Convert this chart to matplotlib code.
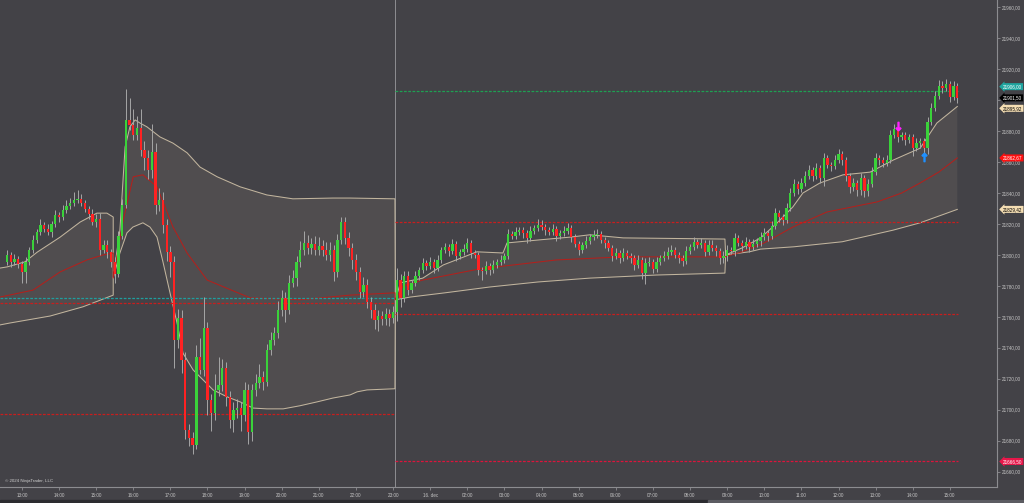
import matplotlib
matplotlib.use("Agg")
import matplotlib.pyplot as plt
import matplotlib.transforms as mtransforms
from matplotlib.patches import Rectangle
import numpy as np

plt.rcParams['font.family'] = ['Liberation Sans', 'DejaVu Sans']

# ---- 6-minute bars, bar 0 = 12:36, bar 256 = 15:12 next day ----
first_open = 21795.5
closes = [
    21800, 21795.5, 21797.5, 21794.25, 21789, 21795.5, 21803.25, 21809.75, 21814.75, 21819.25,
    21816.75, 21814.75, 21820, 21825.75, 21824.5, 21829, 21831.5, 21833.5, 21835.5, 21836.25,
    21833.5, 21829.75, 21826.5, 21821.25, 21823.25, 21803.25, 21806.5, 21802, 21795.5, 21787.75,
    21812.25, 21832.25, 21887.25, 21884, 21877.5, 21882, 21867.75, 21862.75, 21855, 21866.5,
    21832.25, 21835.5, 21819.25, 21802, 21795.5, 21745, 21759.25, 21732, 21687, 21681.75,
    21677.25, 21734, 21725.75, 21752.75, 21706.25, 21698, 21712.75, 21716, 21727, 21708.25,
    21693.25, 21699.75, 21701, 21696.5, 21712.75, 21685.5, 21712.75, 21717.25, 21721.25, 21718,
    21738.5, 21745, 21749.5, 21764.5, 21772.25, 21764.5, 21782, 21785, 21795.5, 21803.25,
    21807.75, 21804.5, 21807, 21803.25, 21805.75, 21803.25, 21800, 21803.25, 21789, 21809.75,
    21821.25, 21811, 21804.5, 21796.75, 21789, 21776, 21780.5, 21769.5, 21764.5, 21758,
    21760.5, 21758.5, 21761.75, 21759.25, 21763, 21783.75, 21772.25, 21786.5, 21777.25, 21782,
    21786.5, 21790.25, 21794.75, 21793, 21795.5, 21791.5, 21796.75, 21803.25, 21805, 21802.5,
    21807, 21799.25, 21802, 21803.75, 21807.75, 21801.25, 21800, 21790.25, 21789.5, 21793,
    21790.25, 21793.5, 21795.5, 21796.75, 21799.25, 21813.5, 21812.25, 21814.75, 21816, 21814.25,
    21811, 21815.5, 21817.5, 21819.25, 21818, 21816, 21814.75, 21816.75, 21812.25, 21814.25,
    21815.5, 21817.5, 21811.5, 21807, 21803.25, 21806.5, 21809, 21811.5, 21813, 21813.5,
    21809.75, 21807.75, 21804.5, 21799.25, 21801.25, 21798, 21801.25, 21799.25, 21798, 21793.5,
    21796.75, 21788.25, 21794.75, 21795.5, 21791, 21795.5, 21798, 21799.25, 21802, 21803.25,
    21800, 21798, 21796, 21802.5, 21805, 21808.5, 21806.5, 21807.75, 21802, 21806.5,
    21804.5, 21802.5, 21798, 21799.25, 21803.25, 21802.5, 21811, 21807.75, 21805.75, 21808.5,
    21805, 21807, 21809, 21811.5, 21814.25, 21812.25, 21818.75, 21827, 21824.5, 21822.5,
    21830.25, 21840, 21845.75, 21842.5, 21846.5, 21851, 21855, 21851, 21856.25, 21849.75,
    21862.75, 21858, 21857.5, 21861.25, 21865.25, 21861.25, 21851, 21844, 21846.5, 21842,
    21849.75, 21841.25, 21845.75, 21853.5, 21862.75, 21861.25, 21859.5, 21861.25, 21877.5, 21881.5,
    21876.25, 21877.5, 21874.25, 21876.25, 21869, 21872.25, 21873.75, 21869, 21886, 21895,
    21902.75, 21909.25, 21907.75, 21910.5, 21902, 21909.25, 21901.5,
]
wick_up = [
    3, 2, 3, 2, 2, 3, 2, 3, 2, 4,  2, 3, 2, 3, 2, 3, 4, 3, 5, 6,
    3, 2, 2, 3, 3, 4, 3, 3, 2, 3,  3, 4, 20, 14, 10, 8, 12, 6, 5, 18,
    6, 8, 5, 4, 4, 4, 6, 5, 5, 4,  4, 8, 12, 20, 4, 4, 10, 18, 6, 4,
    4, 5, 6, 4, 5, 4, 4, 6, 8, 4,  4, 5, 4, 6, 5, 4, 5, 5, 4, 6,
    8, 5, 4, 5, 6, 4, 5, 5, 3, 4,  3, 3, 4, 3, 4, 3, 5, 4, 3, 4,
    4, 3, 4, 3, 4, 8, 4, 3, 3, 2,  3, 2, 3, 2, 3, 2, 3, 2, 3, 2,
    3, 2, 2, 3, 3, 2, 2, 2, 2, 3,  2, 3, 2, 3, 2, 3, 2, 3, 2, 2,
    2, 3, 2, 4, 3, 2, 2, 3, 2, 2,  3, 3, 2, 2, 2, 2, 3, 2, 3, 3,
    2, 2, 2, 2, 3, 2, 3, 2, 2, 2,  3, 2, 3, 3, 2, 3, 2, 3, 3, 3,
    2, 2, 2, 3, 2, 3, 2, 3, 2, 3,  3, 2, 2, 3, 3, 2, 3, 2, 2, 3,
    2, 3, 2, 3, 3, 2, 3, 3, 2, 2,  3, 3, 3, 2, 3, 3, 3, 2, 3, 2,
    3, 2, 2, 3, 3, 2, 2, 2, 3, 2,  3, 2, 3, 3, 3, 2, 2, 3, 3, 3,
    4, 2, 2, 2, 2, 3, 2, 2, 3, 3,  3, 4, 3, 3, 2, 3, 2,
]
wick_dn = [
    2, 3, 2, 3, 7, 7, 2, 2, 2, 2,  2, 2, 3, 2, 3, 2, 2, 2, 2, 2,
    2, 2, 3, 2, 3, 3, 2, 4, 3, 6,  2, 2, 2, 3, 3, 3, 4, 8, 6, 5,
    6, 4, 5, 6, 10, 18, 5, 8, 6, 5,  6, 3, 3, 4, 10, 12, 5, 4, 4, 6,
    5, 8, 5, 10, 4, 8, 6, 4, 3, 5,  3, 3, 3, 3, 4, 8, 3, 3, 5, 3,
    3, 4, 4, 3, 3, 4, 3, 4, 6, 3,  3, 4, 5, 6, 5, 4, 3, 4, 5, 6,
    7, 4, 4, 5, 3, 6, 6, 3, 3, 2,  2, 3, 2, 3, 2, 3, 2, 2, 2, 3,
    2, 3, 2, 2, 2, 3, 2, 3, 6, 2,  3, 2, 2, 2, 2, 2, 2, 2, 2, 3,
    3, 2, 2, 2, 2, 3, 2, 2, 3, 2,  2, 2, 3, 2, 3, 2, 2, 2, 2, 2,
    2, 3, 2, 3, 2, 3, 2, 2, 3, 3,  2, 4, 7, 2, 3, 2, 2, 2, 2, 2,
    2, 3, 3, 2, 2, 2, 2, 2, 3, 2,  2, 3, 4, 3, 3, 2, 3, 2, 3, 2,
    3, 2, 2, 3, 2, 3, 2, 2, 3, 3,  2, 2, 2, 3, 2, 2, 2, 3, 2, 3,
    5, 2, 3, 2, 2, 3, 3, 4, 3, 4,  3, 4, 3, 2, 2, 3, 3, 2, 2, 2,
    3, 2, 3, 2, 5, 2, 3, 3, 4, 2,  2, 2, 3, 2, 3, 2, 3,
]

time_labels = ["13:00", "14:00", "15:00", "16:00", "17:00", "18:00", "19:00", "20:00",
               "21:00", "22:00", "23:00", "16. dec", "02:00", "03:00", "04:00", "05:00",
               "06:00", "07:00", "08:00", "09:00", "10:00", "11:00", "12:00", "13:00",
               "14:00", "15:00"]

# ---- VWAP bands (beige) and VWAP (red), per session, x in bars ----
upper_a_x = [-1.9, 0, 4.8, 8.1, 14.3, 19.7, 24.2, 26.9, 28.6]
upper_a_y = [21791.5, 21792.25, 21795.5, 21801.75, 21811.5, 21821.25, 21827.0, 21827.0, 21824.5]
lower_a_x = [-1.9, 0.8, 11.6, 20.5, 25.9, 28.6]
lower_a_y = [21754.75, 21756.0, 21760.5, 21766.5, 21771.5, 21774.0]
vwap_a_x = [-1.9, 7, 14.3, 21.5, 25.9, 28.6]
vwap_a_y = [21772.75, 21777.25, 21789.0, 21796.75, 21800.0, 21801.25]

upper_b_x = [28.6, 30.4, 31.8, 33.1, 34.5, 35.8, 37.7, 41.2, 44.7, 48.5, 52.0, 56.6, 62.8,
             70.0, 77.0, 87.8, 92.4, 104.5]
upper_b_y = [21785.0, 21816.0, 21869.75, 21882.75, 21887.25, 21885.25, 21882.75, 21876.25,
             21872.25, 21866.0, 21856.75, 21850.5, 21844.0, 21838.75, 21836.25, 21836.75,
             21836.75, 21836.25]
lower_b_x = [28.6, 30.4, 32.3, 33.9, 36.6, 38.5, 40.4, 42.0, 43.9, 45.8, 47.4, 50.1, 52.8,
             55.5, 59.3, 62.8, 66.3, 70.0, 74.4, 78.9, 83.5, 87.8, 92.4, 94.3, 97.0, 104.5]
lower_b_y = [21785.0, 21801.25, 21814.25, 21818.0, 21820.75, 21818.0, 21811.5, 21795.5,
             21775.5, 21756.0, 21736.5, 21725.75, 21719.25, 21712.75, 21708.25, 21705.0,
             21701.0, 21700.5, 21700.5, 21702.5, 21705.0, 21707.5, 21709.5, 21711.5,
             21712.75, 21713.5]
vwap_b_x = [28.6, 31.3, 34.0, 36.6, 40.4, 44.7, 46.6, 48.5, 53.9, 65.5, 78.9, 92.4, 104.5]
vwap_b_y = [21785.0, 21822.5, 21850.5, 21851.75, 21844.0, 21818.0, 21809.75, 21801.25,
            21783.75, 21772.25, 21771.0, 21774.0, 21775.5]

upper_c_x = [104.6, 106.0, 112.0, 117.5, 126.6, 133.6, 134.7, 143.6, 151.7, 157.0, 166.0, 193.4]
upper_c_y = [21771.0, 21782.0, 21785.0, 21793.5, 21802.0, 21801.25, 21807.75, 21809.75,
             21811.5, 21813.0, 21811.0, 21810.25]
lower_c_x = [104.6, 108.6, 118.0, 130.0, 143.0, 157.0, 175.0, 193.4]
lower_c_y = [21771.0, 21772.75, 21775.5, 21779.25, 21782.5, 21785.0, 21787.0, 21788.25]
vwap_cd_x = [104.6, 106.7, 112.0, 127.4, 148.0, 166.0, 193.4, 198.0, 204.0, 211.7, 220.9,
             234.4, 241.0, 246.0, 251.0, 256.0]
vwap_cd_y = [21771.0, 21780.0, 21783.75, 21791.0, 21796.75, 21798.75, 21798.75, 21802.0,
             21807.75, 21818.0, 21827.75, 21834.25, 21840.0, 21846.5, 21853.5, 21862.67]

upper_d_x = [193.6, 198.0, 203.0, 207.5, 211.7, 214.4, 219.0, 225.2, 232.5, 238.7, 246.0, 250.5, 256.0]
upper_d_y = [21800.0, 21804.5, 21811.0, 21820.75, 21831.0, 21840.0, 21846.5, 21851.75,
             21853.5, 21861.25, 21869.0, 21885.25, 21895.92]
lower_d_x = [193.6, 200.0, 203.0, 212.0, 225.0, 238.7, 246.0, 256.0]
lower_d_y = [21800.0, 21802.0, 21803.75, 21805.25, 21808.5, 21816.0, 21820.75, 21829.42]

# ---- horizontal levels ----
hl_levels = [21772.25, 21769.0, 21697.25, 21821.25, 21762.0, 21906.0, 21666.5]
hl_start = [-1.9, -1.9, -1.9, 104.5, 104.5, 104.5, 104.5]
hl_end = [104.5, 104.5, 104.5, 256.3, 256.3, 256.3, 256.3]
hl_colors = ['#1f9e9e', '#c81e1e', '#c81e1e', '#c81e1e', '#c81e1e', '#1ea052', '#dc143c']

# ---- price markers on the right axis ----
label_values = [21906.00, 21901.50, 21895.92, 21862.67, 21829.42, 21666.50]
label_pos = [21908.75, 21901.5, 21894.75, 21862.67, 21829.42, 21666.5]
label_bg = ['#1fa5a0', '#000000', '#f5deb3', '#ff1010', '#f5deb3', '#e8174a']
label_fg = ['white', 'white', 'black', 'white', 'black', 'white']

BG = '#434247'
GREEN = '#3ad23a'
RED = '#ff2222'
BEIGE = '#c2b59e'
TXT = '#c4c4c4'

fig = plt.figure(figsize=(10.24, 5.03), dpi=100, facecolor=BG)
ax = fig.add_axes([0, 16 / 503, 997 / 1024, 487 / 503], facecolor=BG)

# band fills
for ux, uy, lx, ly in [(upper_a_x, upper_a_y, lower_a_x, lower_a_y),
                       (upper_b_x, upper_b_y, lower_b_x, lower_b_y),
                       (upper_c_x, upper_c_y, lower_c_x, lower_c_y),
                       (upper_d_x, upper_d_y, lower_d_x, lower_d_y)]:
    ax.fill(np.r_[ux, lx[::-1]], np.r_[uy, ly[::-1]], color='#f5deb3', alpha=0.075, lw=0, zorder=1)

# band lines (continuous through session resets)
ax.plot(np.r_[upper_a_x, upper_b_x, upper_c_x, upper_d_x],
        np.r_[upper_a_y, upper_b_y, upper_c_y, upper_d_y], color=BEIGE, lw=0.75, zorder=2)
ax.plot(np.r_[lower_a_x, lower_b_x, lower_c_x, lower_d_x],
        np.r_[lower_a_y, lower_b_y, lower_c_y, lower_d_y], color=BEIGE, lw=0.75, zorder=2)
ax.plot(np.r_[vwap_a_x, vwap_b_x, vwap_cd_x], np.r_[vwap_a_y, vwap_b_y, vwap_cd_y],
        color='#b3201c', lw=0.75, zorder=2)

# session break
ax.axvline(104.5, color='#8e8e92', lw=0.7, zorder=1.5)

# horizontal levels
for lev, x0, x1, col in zip(hl_levels, hl_start, hl_end, hl_colors):
    ax.plot([x0, x1], [lev, lev], color=col, lw=0.9, ls=(0, (2.2, 1.2)), zorder=2.5)

# candles
c = np.array(closes, dtype=float)
o = np.r_[first_open, c[:-1]]
x = np.arange(len(c))
hi = np.maximum(o, c) + np.array(wick_up)
lo = np.minimum(o, c) - np.array(wick_dn)
ax.vlines(x, lo, hi, color='#a6a6a6', lw=0.7, zorder=3)
body_h = np.maximum(np.abs(c - o), 0.4)
ax.bar(x, body_h, bottom=np.minimum(o, c), width=0.62,
       color=np.where(c >= o, GREEN, RED), linewidth=0, zorder=4)

# signal arrows
ax.plot([240], [21883.0], marker=r'$\downarrow$', color='#ff20ff', ms=6, zorder=5)
ax.plot([247], [21863.0], marker=r'$\uparrow$', color='#1e90ff', ms=6, zorder=5)

ax.set_xlim(-1.9, 266.7)
ax.set_ylim(21650.0, 21964.75)

# axes styling
for s in ['top', 'left']:
    ax.spines[s].set_visible(False)
for s in ['bottom', 'right']:
    ax.spines[s].set_color('#8c8c90')
    ax.spines[s].set_linewidth(0.8)

ax.yaxis.tick_right()
yt = np.arange(21660, 21961, 20)
ax.set_yticks(yt)
# the 21900 label sits under the price markers in the reference
ax.set_yticklabels(["" if v == 21900 else f"{v:.2f}".replace('.', ',') for v in yt])
ax.set_xticks(np.arange(4, 255, 10))
ax.set_xticklabels(time_labels)
ax.tick_params(axis='both', colors='#8c8c90', labelcolor=TXT, labelsize=3.3,
               length=2, width=0.6, pad=1.5)
ax.tick_params(axis='x', pad=2.5)

# right-axis price markers
trans = mtransforms.blended_transform_factory(ax.transAxes, ax.transData)
for v, p, bg, fg in zip(label_values, label_pos, label_bg, label_fg):
    ax.text(1.006, p, f"{v:.2f}".replace('.', ','), transform=trans, ha='left', va='center',
            fontsize=3.3, color=fg, clip_on=False, zorder=10,
            bbox=dict(boxstyle='larrow,pad=0.22', fc=bg, ec='none'))

ax.text(5 / 997, 6 / 487, "© 2024 NinjaTrader, LLC", transform=ax.transAxes,
        fontsize=3.2, color='#d0d0d0', ha='left', va='center')

# bottom scrollbar strip
fig.patches.append(Rectangle((0, 0), 1, 3 / 503, transform=fig.transFigure,
                             color='#2c2c30', zorder=0))
fig.patches.append(Rectangle((708 / 1024, 0), 1 - 708 / 1024, 3 / 503,
                             transform=fig.transFigure, color='#5c5c62', zorder=1))

fig.savefig("out.png", dpi=100, facecolor=BG)
